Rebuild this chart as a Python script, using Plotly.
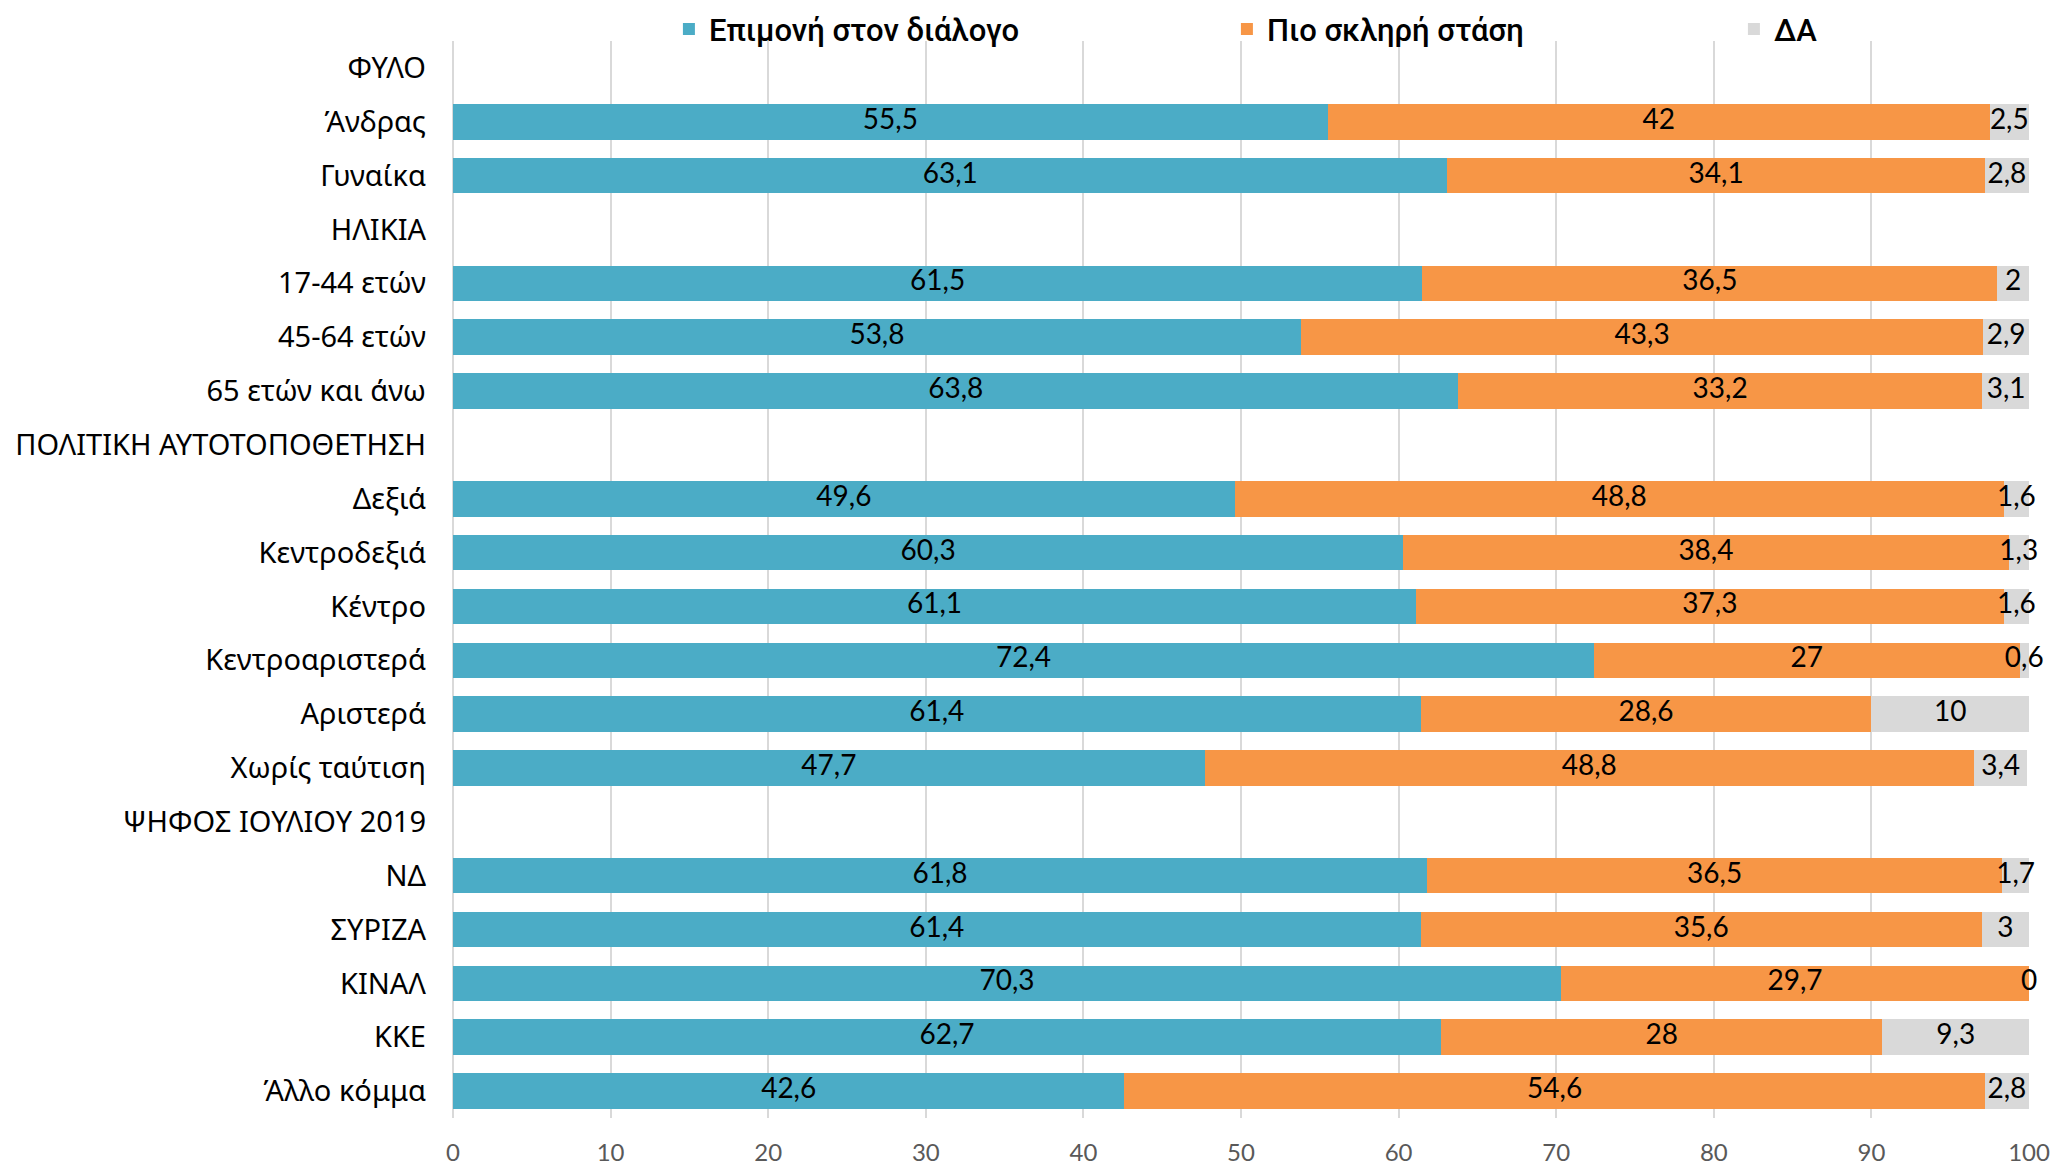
import plotly.graph_objects as go

categories = ["ΦΥΛΟ", "Άνδρας", "Γυναίκα", "ΗΛΙΚΙΑ", "17-44 ετών", "45-64 ετών",
              "65 ετών και άνω", "ΠΟΛΙΤΙΚΗ ΑΥΤΟΤΟΠΟΘΕΤΗΣΗ", "Δεξιά", "Κεντροδεξιά",
              "Κέντρο", "Κεντροαριστερά", "Αριστερά", "Χωρίς ταύτιση",
              "ΨΗΦΟΣ ΙΟΥΛΙΟΥ 2019", "ΝΔ", "ΣΥΡΙΖΑ", "ΚΙΝΑΛ", "ΚΚΕ", "Άλλο κόμμα"]
dialogue = [None, 55.5, 63.1, None, 61.5, 53.8, 63.8, None, 49.6, 60.3, 61.1, 72.4,
            61.4, 47.7, None, 61.8, 61.4, 70.3, 62.7, 42.6]
harsh = [None, 42, 34.1, None, 36.5, 43.3, 33.2, None, 48.8, 38.4, 37.3, 27,
         28.6, 48.8, None, 36.5, 35.6, 29.7, 28, 54.6]
dk = [None, 2.5, 2.8, None, 2, 2.9, 3.1, None, 1.6, 1.3, 1.6, 0.6,
      10, 3.4, None, 1.7, 3, 0, 9.3, 2.8]
series_names = ["Επιμονή στον διάλογο", "Πιο σκληρή στάση", "ΔΑ"]
colors = ["#4BACC6", "#F79646", "#D9D9D9"]
x_ticks = list(range(0, 101, 10))


def fmt(v):
    return "" if v is None else f"{v:g}".replace(".", ",")


fig = go.Figure()
series = [dialogue, harsh, dk]
legend_w = [513, 462, 60]
for name, vals, col, lw in zip(series_names, series, colors, legend_w):
    fig.add_trace(go.Bar(
        y=categories, x=vals, name=name, orientation="h",
        marker=dict(color=col, line=dict(width=0)),
        legendwidth=lw, hoverinfo="skip",
    ))

# data labels centred on each segment (overflowing like the original)
offset = [0 if v is not None else None for v in dialogue]
for vals in series:
    cx, cy, tx = [], [], []
    for i, v in enumerate(vals):
        if v is None:
            continue
        cx.append(offset[i] + v / 2)
        cy.append(categories[i])
        tx.append(fmt(v))
        offset[i] += v
    fig.add_trace(go.Scatter(
        x=cx, y=cy, text=tx, mode="text", showlegend=False, hoverinfo="skip",
        textfont=dict(family="Lato, Noto Sans, sans-serif", size=28, color="#000000"),
        cliponaxis=False,
    ))

n = len(categories)
fig.update_layout(
    width=2052, height=1165,
    barmode="stack", bargap=0.34,
    plot_bgcolor="#FFFFFF", paper_bgcolor="#FFFFFF",
    margin=dict(l=453, r=23, t=41, b=47, autoexpand=False),
    showlegend=True,
    legend=dict(
        orientation="h", x=0.137, xanchor="left", y=1.036, yanchor="top",
        font=dict(family="Roboto, Noto Sans, sans-serif", size=31, color="#000000", weight=500),
        traceorder="normal", bgcolor="rgba(0,0,0,0)",
    ),
    xaxis=dict(
        range=[0, 100], tickvals=x_ticks, ticktext=[str(t) for t in x_ticks],
        showgrid=True, gridcolor="#D9D9D9", gridwidth=1.5,
        zeroline=True, zerolinecolor="#D9D9D9", zerolinewidth=1.5,
        showline=False, ticks="", ticklabelstandoff=18,
        tickfont=dict(family="Lato, Noto Sans, sans-serif", size=24, color="#595959"),
        fixedrange=True,
    ),
    yaxis=dict(
        type="category", range=[n - 0.5, -0.5], categoryorder="array",
        categoryarray=categories, showgrid=False, zeroline=False, showline=False,
        ticks="", ticklabelstandoff=26,
        tickfont=dict(family="Noto Sans, Open Sans, sans-serif", size=29, color="#000000"),
        fixedrange=True,
    ),
)

fig.write_html("out.html", config={"displayModeBar": False},
               post_script="document.body.style.margin='0px';")
